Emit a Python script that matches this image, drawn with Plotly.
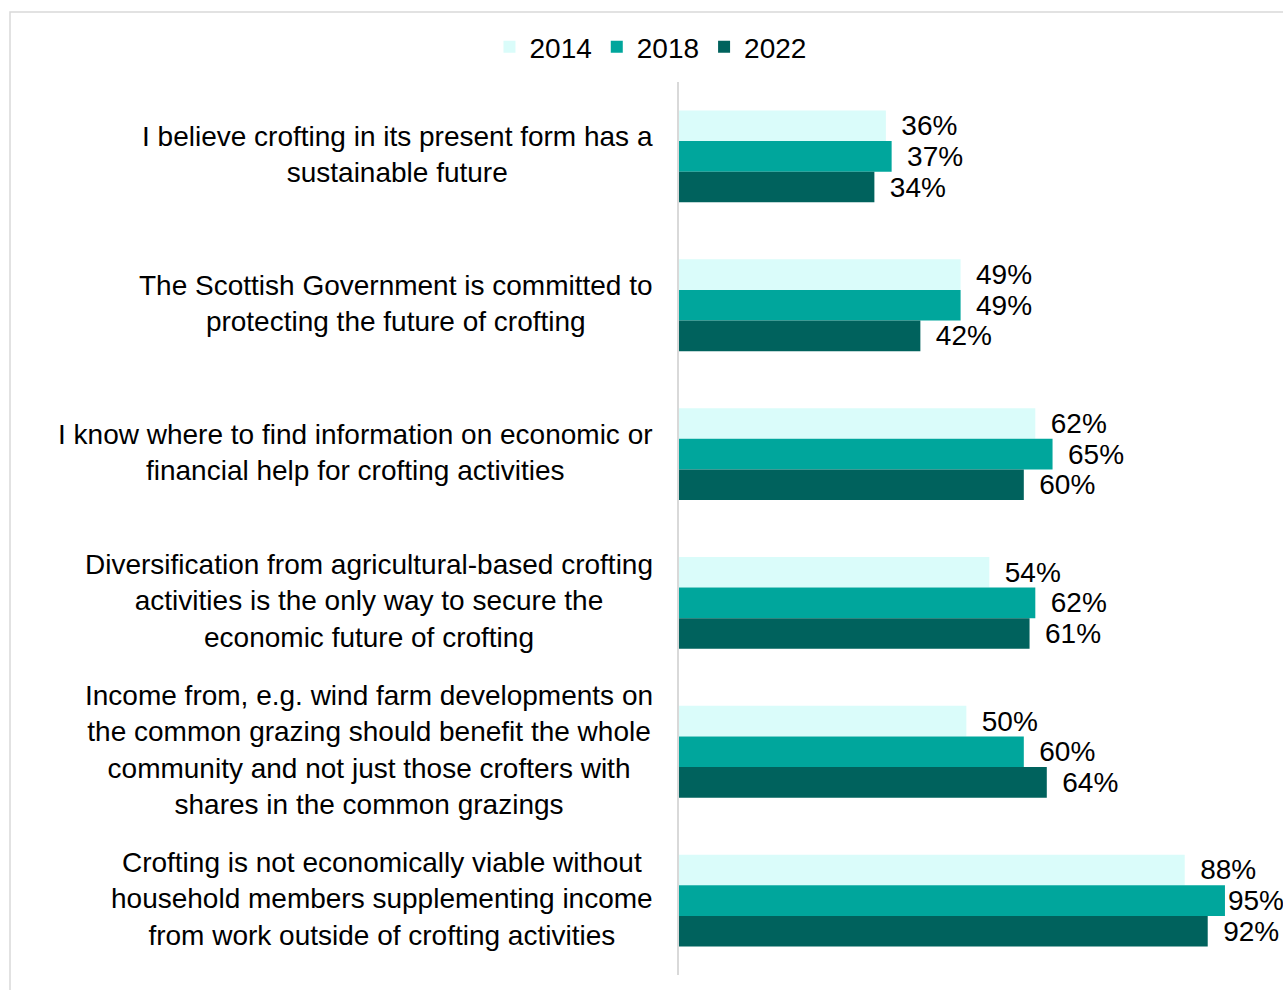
import plotly.graph_objects as go

# Survey statements (first one drawn at the top)
statements = [
    "I believe crofting in its present form has a<br>sustainable future",
    "The Scottish Government is committed to<br>protecting the future of crofting",
    "I know where to find information on economic or<br>financial help for crofting activities",
    "Diversification from agricultural-based crofting<br>activities is the only way to secure the<br>economic future of crofting",
    "Income from, e.g. wind farm developments on<br>the common grazing should benefit the whole<br>community and not just those crofters with<br>shares in the common grazings",
    "Crofting is not economically viable without<br>household members supplementing income<br>from work outside of crofting activities",
]

years = ["2014", "2018", "2022"]
pct_2014 = [36, 49, 62, 54, 50, 88]
pct_2018 = [37, 49, 65, 62, 60, 95]
pct_2022 = [34, 42, 60, 61, 64, 92]
series = [pct_2014, pct_2018, pct_2022]
colors = ["#DAFCFA", "#00A69C", "#00625D"]

FONT = "Liberation Sans, Arial, sans-serif"
FS = 28
W, H = 1283, 990
M_L, M_R, M_T, M_B = 679, 0, 82, 15
X_MAX = 105.1

px_per_unit = (W - M_L - M_R) / X_MAX
PAD = "\u00a0\u2006"  # small gap between a bar end and its value label


def value_label(v):
    # keep the label inside the figure when the bar runs close to the edge
    label = f"{v}%"
    label_w = (0.556 * 2 + 0.889) * FS
    end = M_L + v * px_per_unit + 3 + 0.45 * FS + label_w
    return label if end > W else PAD + label


fig = go.Figure()
for year, vals, col in zip(years, series, colors):
    fig.add_trace(go.Bar(
        name=year,
        y=statements,
        x=vals,
        orientation="h",
        marker=dict(color=col, line=dict(width=0)),
        text=[value_label(v) for v in vals],
        textposition="outside",
        textfont=dict(family=FONT, size=FS, color="#000000"),
        constraintext="none",
        cliponaxis=False,
        hoverinfo="skip",
    ))

# Statement labels, centred line by line to the left of the axis
for s in statements:
    fig.add_annotation(
        x=0, xref="paper", y=s, yref="y",
        text=s, showarrow=False,
        xanchor="right", yanchor="middle", xshift=-24, yshift=2,
        align="center",
        font=dict(family=FONT, size=FS, color="#000000"),
    )

# Light outer frame of the chart
fig.add_shape(
    type="rect", xref="paper", yref="paper",
    x0=(10 - M_L) / (W - M_L - M_R), x1=1.2,
    y0=-0.2, y1=(H - M_B - 12) / (H - M_T - M_B),
    line=dict(color="#D9D9D9", width=1.5), fillcolor="rgba(0,0,0,0)",
    layer="below",
)

fig.update_layout(
    width=W, height=H,
    margin=dict(l=M_L, r=M_R, t=M_T, b=M_B),
    paper_bgcolor="white", plot_bgcolor="white",
    barmode="group", bargap=0.383, bargroupgap=0,
    font=dict(family=FONT, size=FS, color="#000000"),
    showlegend=True,
    legend=dict(
        orientation="h",
        xref="container", yref="container",
        x=0.507, xanchor="center", y=1 - 47 / H, yanchor="middle",
        font=dict(family=FONT, size=FS, color="#000000"),
        itemwidth=30, traceorder="normal",
    ),
    xaxis=dict(range=[0, X_MAX], visible=False, fixedrange=True),
    yaxis=dict(
        autorange="reversed", showticklabels=False, ticks="",
        showgrid=False, zeroline=False,
        showline=True, linecolor="#D9D9D9", linewidth=2,
    ),
)

fig.write_html("out.html")
